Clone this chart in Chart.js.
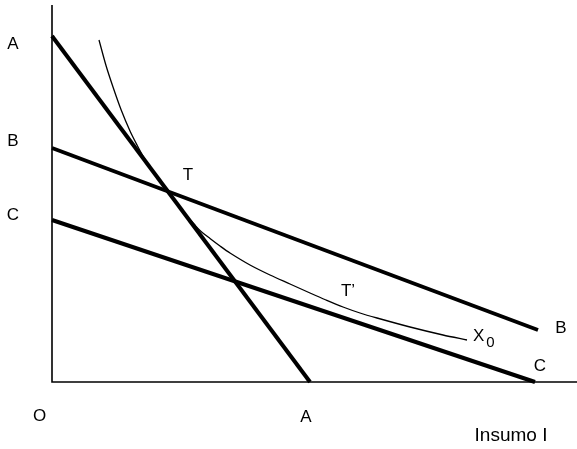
<!DOCTYPE html>
<html>
<head>
<meta charset="utf-8">
<script src="https://cdn.jsdelivr.net/npm/chart.js@4.4.1/dist/chart.umd.min.js"></script>
<style>
  html, body { margin: 0; padding: 0; background: #fff; }
  #wrap { width: 577px; height: 449px; }
</style>
</head>
<body>
<div id="wrap"><canvas id="isoquant" width="577" height="449"></canvas></div>
<script>
// Budget lines (straight, two ends each)
const lineNames = ["A", "B", "C"];
const lineX = [[0, 5.16], [0, 9.72], [0, 9.66]];
const lineY = [[6.92, 0], [4.68, 1.04], [3.24, 0]];

// Isoquant X0
const curveX = [0.94, 1.08, 1.22, 1.38, 1.56, 1.70, 1.82, 2.00, 2.20, 2.40, 2.60, 2.72, 2.84, 2.96,
                3.16, 3.36, 3.56, 3.96, 4.36, 4.76, 5.16, 5.48, 5.82, 6.16, 6.50, 7.16, 7.82, 8.30];
const curveY = [6.84, 6.33, 5.90, 5.45, 5.02, 4.74, 4.52, 4.24, 3.98, 3.71, 3.44, 3.29, 3.16, 3.03,
                2.87, 2.72, 2.58, 2.34, 2.14, 1.96, 1.78, 1.64, 1.50, 1.38, 1.28, 1.10, 0.94, 0.84];

const xMax = 10.5;
const yMax = 7.54;

function toPoints(xs, ys) {
  return xs.map((x, i) => ({ x: x, y: ys[i] }));
}

const datasets = lineNames.map((name, i) => ({
  label: name,
  data: toPoints(lineX[i], lineY[i]),
  showLine: true,
  borderColor: "#000",
  borderWidth: 4,
  pointRadius: 0,
  clip: false
}));

datasets.push({
  label: "X0",
  data: toPoints(curveX, curveY),
  showLine: true,
  borderColor: "#000",
  borderWidth: 1.3,
  pointRadius: 0,
  tension: 0.3,
  clip: false
});

// Text labels, placed in data coordinates
const textLabels = [
  { t: "A", x: -0.78, y: 6.76 },
  { t: "B", x: -0.78, y: 4.82 },
  { t: "C", x: -0.78, y: 3.34 },
  { t: "O", x: -0.25, y: -0.69 },
  { t: "A", x: 5.08, y: -0.70 },
  { t: "T", x: 2.72, y: 4.14 },
  { t: "T\u2019", x: 5.92, y: 1.82 },
  { t: "B", x: 10.18, y: 1.07 },
  { t: "C", x: 9.76, y: 0.32 }
];

const axesPlugin = {
  id: "axesAndText",
  afterDraw(chart) {
    const ctx = chart.ctx;
    const area = chart.chartArea;
    const xs = chart.scales.x;
    const ys = chart.scales.y;

    ctx.save();
    ctx.strokeStyle = "#000";
    ctx.lineWidth = 1.6;
    ctx.beginPath();
    ctx.moveTo(area.left, area.top);
    ctx.lineTo(area.left, area.bottom);
    ctx.lineTo(area.right, area.bottom);
    ctx.stroke();

    ctx.fillStyle = "#000";
    ctx.textAlign = "center";
    ctx.textBaseline = "middle";
    ctx.font = "17px 'Liberation Sans', Arial, sans-serif";
    textLabels.forEach(l => {
      ctx.fillText(l.t, xs.getPixelForValue(l.x), ys.getPixelForValue(l.y));
    });

    // X0 label with subscript
    const px = xs.getPixelForValue(8.42);
    const py = ys.getPixelForValue(0.91);
    ctx.textAlign = "left";
    ctx.fillText("X", px, py);
    const w = ctx.measureText("X").width;
    ctx.font = "15px 'Liberation Sans', Arial, sans-serif";
    ctx.fillText("0", px + w + 2, py + 6);

    // axis title
    ctx.font = "19px 'Liberation Sans', Arial, sans-serif";
    ctx.textAlign = "center";
    ctx.fillText("Insumo I", xs.getPixelForValue(9.18), ys.getPixelForValue(-1.08));
    ctx.restore();
  }
};

new Chart(document.getElementById("isoquant"), {
  type: "scatter",
  data: { datasets: datasets },
  options: {
    responsive: false,
    animation: false,
    layout: { padding: { left: 52, top: 5, right: 0, bottom: 67 } },
    plugins: { legend: { display: false }, tooltip: { enabled: false } },
    scales: {
      x: { type: "linear", min: 0, max: xMax, display: false },
      y: { type: "linear", min: 0, max: yMax, display: false }
    }
  },
  plugins: [axesPlugin]
});
</script>
</body>
</html>
